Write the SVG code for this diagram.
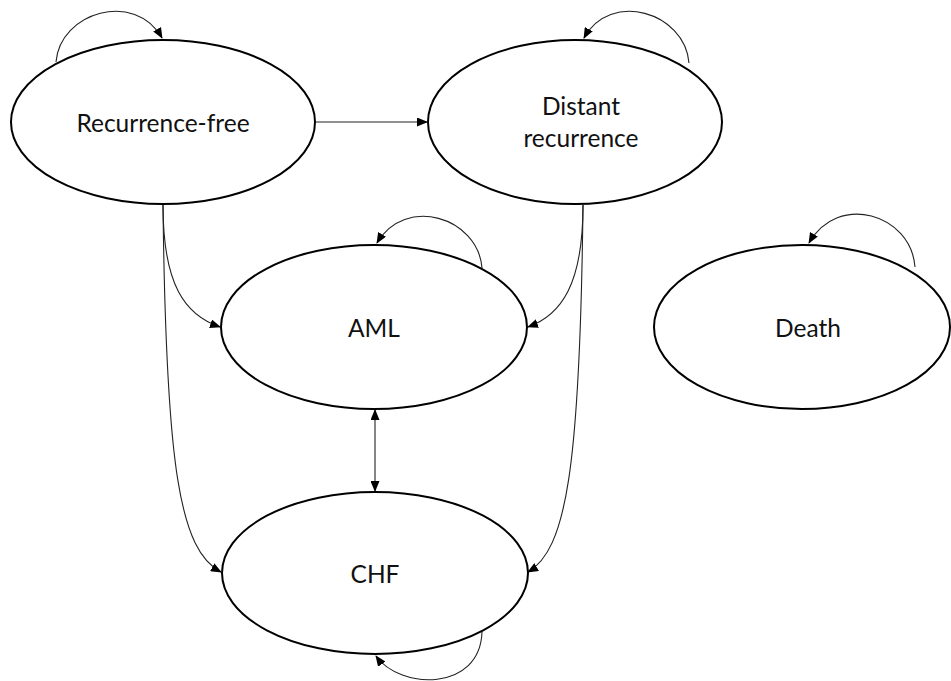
<svg xmlns="http://www.w3.org/2000/svg" width="951" height="681" viewBox="0 0 951 681">
<style>
.node ellipse{fill:#fff;stroke:#000;stroke-width:2}
.node text{font-family:Lato,"Open Sans",sans-serif;font-size:24.5px;fill:#111;text-anchor:middle}
.edge{fill:none;stroke:#222;stroke-width:1.1}
</style>
<defs>
<marker id="ah" markerUnits="userSpaceOnUse" markerWidth="11" markerHeight="9" refX="10" refY="4.5" orient="auto-start-reverse">
<path d="M0,0 L11,4.5 L0,9 z" fill="#000"/>
</marker>
</defs>
<rect width="951" height="681" fill="#fff"/>
<g id="connectors">
<path class="edge" d="M316,122 L427,122" marker-end="url(#ah)"/>
<path class="edge" d="M56,62 C60,12 135,-10 162,38" marker-end="url(#ah)"/>
<path class="edge" d="M689,63 C685,12 610,-10 584,38" marker-end="url(#ah)"/>
<path class="edge" d="M482,268 C478,217 405,195 377,243" marker-end="url(#ah)"/>
<path class="edge" d="M915,267 C911,214 838,192 809,243" marker-end="url(#ah)"/>
<path class="edge" d="M482,632 C480,692 400,690 376,656" marker-end="url(#ah)"/>
<path class="edge" d="M163,205 C163,285 185,315 220,327" marker-end="url(#ah)"/>
<path class="edge" d="M583,205 C583,285 561,315 528,327" marker-end="url(#ah)"/>
<path class="edge" d="M163,205 C166,470 180,550 221,572" marker-end="url(#ah)"/>
<path class="edge" d="M583,205 C580,470 566,550 528,572" marker-end="url(#ah)"/>
<path class="edge" d="M375,410 L375,491" marker-start="url(#ah)" marker-end="url(#ah)"/>
</g>
<g id="recurrence-free" class="node">
<ellipse cx="163" cy="122" rx="152" ry="82"/>
<text x="163" y="132">Recurrence-free</text>
</g>
<g id="distant-recurrence" class="node">
<ellipse cx="575" cy="122" rx="147" ry="82"/>
<text x="581" y="115">Distant</text>
<text x="581" y="147">recurrence</text>
</g>
<g id="aml" class="node">
<ellipse cx="374" cy="327" rx="153" ry="82"/>
<text x="374" y="337">AML</text>
</g>
<g id="death" class="node">
<ellipse cx="802" cy="327" rx="148" ry="82"/>
<text x="808" y="337">Death</text>
</g>
<g id="chf" class="node">
<ellipse cx="375" cy="573" rx="153" ry="81"/>
<text x="375" y="583">CHF</text>
</g>
</svg>
